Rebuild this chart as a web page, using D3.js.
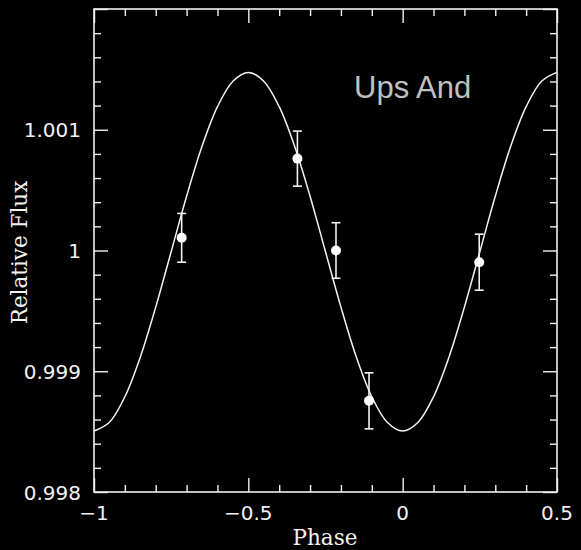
<!DOCTYPE html>
<html><head><meta charset="utf-8">
<script src="https://cdn.jsdelivr.net/npm/d3@7"></script>
<style>html,body{margin:0;padding:0;background:#000;}svg{display:block;}</style>
</head><body>
<svg id="c" width="581" height="550"></svg>
<script>
// Observed data points
const obsPhase = [-0.716, -0.341, -0.216, -0.109, 0.248];
const obsFlux  = [1.000105, 1.000761, 1.000000, 0.998755, 0.999903];
const obsErr   = [0.000202, 0.000228, 0.000230, 0.000232, 0.000232];
// Model curve
const curvePhase = [-1,-0.95,-0.9,-0.85,-0.8,-0.75,-0.7,-0.65,-0.6,-0.55,-0.5,-0.45,-0.4,-0.35,-0.3,-0.25,-0.2,-0.15,-0.1,-0.05,0,0.05,0.1,0.15,0.2,0.25,0.3,0.35,0.4,0.45,0.5];
const curveFlux  = [0.998505,0.998578,0.998789,0.999117,0.999531,0.999990,1.000449,1.000863,1.001191,1.001402,1.001475,1.001402,1.001191,1.000863,1.000449,0.999990,0.999531,0.999117,0.998789,0.998578,0.998505,0.998578,0.998789,0.999117,0.999531,0.999990,1.000449,1.000863,1.001191,1.001402,1.001475];
const xTickVals = [-1, -0.5, 0, 0.5];
const xTickLabels = ["\u22121", "\u22120.5", "0", "0.5"];
const yTickVals = [0.998, 0.999, 1, 1.001];
const yTickLabels = ["0.998", "0.999", "1", "1.001"];
const title = "Ups And";
const xTitle = "Phase";
const yTitle = "Relative Flux";

const L = 94, R = 557, T = 9, B = 492;
const fg = "#f2f2f2";
const svg = d3.select("#c");
svg.append("rect").attr("width",581).attr("height",550).attr("fill","#000");

const x = d3.scaleLinear().domain([-1, 0.5]).range([L, R]);
const y = d3.scaleLinear().domain([0.998, 1.002]).range([B, T]);

const xMinor = d3.range(-10, 6).map(i => i/10);
const yMinor = d3.range(0, 21).map(i => 0.998 + i*0.0002);
const isMajX = v => Math.abs(v*2 - Math.round(v*2)) < 1e-6;
const isMajY = v => Math.abs(v*1000 - Math.round(v*1000)) < 1e-6;

function axisStyle(g){
  g.select(".domain").remove();
  g.selectAll("line").attr("stroke", fg).attr("stroke-width", 1.4);
  g.selectAll("text").remove();
}
svg.append("g").attr("transform",`translate(0,${B})`)
  .call(d3.axisBottom(x).tickValues(xMinor).tickSizeInner(-7).tickSizeOuter(0))
  .call(axisStyle)
  .selectAll(".tick line").attr("y2", d => isMajX(d) ? -14 : -7);
svg.append("g").attr("transform",`translate(0,${T})`)
  .call(d3.axisTop(x).tickValues(xMinor).tickSizeInner(-7).tickSizeOuter(0))
  .call(axisStyle)
  .selectAll(".tick line").attr("y2", d => isMajX(d) ? 14 : 7);
svg.append("g").attr("transform",`translate(${L},0)`)
  .call(d3.axisLeft(y).tickValues(yMinor).tickSizeInner(-7).tickSizeOuter(0))
  .call(axisStyle)
  .selectAll(".tick line").attr("x2", d => isMajY(d) ? 14 : 7);
svg.append("g").attr("transform",`translate(${R},0)`)
  .call(d3.axisRight(y).tickValues(yMinor).tickSizeInner(-7).tickSizeOuter(0))
  .call(axisStyle)
  .selectAll(".tick line").attr("x2", d => isMajY(d) ? -14 : -7);

svg.append("rect").attr("x",L).attr("y",T).attr("width",R-L).attr("height",B-T)
  .attr("fill","none").attr("stroke",fg).attr("stroke-width",1.6);

svg.append("g").selectAll("text").data(xTickVals).join("text")
  .attr("x", d => x(d)).attr("y", B + 28)
  .attr("text-anchor","middle").attr("fill",fg)
  .attr("font-family","DejaVu Sans").attr("font-size",20)
  .text((d,i) => xTickLabels[i]);
svg.append("g").selectAll("text").data(yTickVals).join("text")
  .attr("x", L - 13).attr("y", d => y(d) + 7.5)
  .attr("text-anchor","end").attr("fill",fg)
  .attr("font-family","DejaVu Sans").attr("font-size",20)
  .text((d,i) => yTickLabels[i]);

svg.append("text").attr("x", 325).attr("y", 545)
  .attr("text-anchor","middle").attr("fill",fg)
  .attr("font-family","DejaVu Serif").attr("font-size",21.5).text(xTitle);
svg.append("text").attr("transform",`translate(27,${(T+B)/2 + 2}) rotate(-90)`)
  .attr("text-anchor","middle").attr("fill",fg)
  .attr("font-family","DejaVu Serif").attr("font-size",21.5).text(yTitle);

svg.append("text").attr("x", 354).attr("y", 98)
  .attr("fill","#c0c0c0").attr("font-family","Liberation Sans").attr("font-size",31)
  .text(title);

const line = d3.line().x(d => x(d[0])).y(d => y(d[1])).curve(d3.curveCatmullRom.alpha(0.5));
svg.append("path").datum(curvePhase.map((p,i)=>[p, curveFlux[i]]))
  .attr("d", line).attr("fill","none").attr("stroke",fg).attr("stroke-width",1.5);

const obs = obsPhase.map((p,i)=>({p, f: obsFlux[i], e: obsErr[i]}));
const eg = svg.append("g").attr("stroke",fg).attr("stroke-width",1.6);
eg.selectAll(".v").data(obs).join("line")
  .attr("x1", d=>x(d.p)).attr("x2", d=>x(d.p))
  .attr("y1", d=>y(d.f+d.e)).attr("y2", d=>y(d.f-d.e));
eg.selectAll(".t").data(obs).join("line")
  .attr("x1", d=>x(d.p)-4.5).attr("x2", d=>x(d.p)+4.5)
  .attr("y1", d=>y(d.f+d.e)).attr("y2", d=>y(d.f+d.e));
eg.selectAll(".b").data(obs).join("line")
  .attr("x1", d=>x(d.p)-4.5).attr("x2", d=>x(d.p)+4.5)
  .attr("y1", d=>y(d.f-d.e)).attr("y2", d=>y(d.f-d.e));
svg.append("g").selectAll("circle").data(obs).join("circle")
  .attr("cx", d=>x(d.p)).attr("cy", d=>y(d.f)).attr("r",5).attr("fill","#fff");
</script>
</body></html>
